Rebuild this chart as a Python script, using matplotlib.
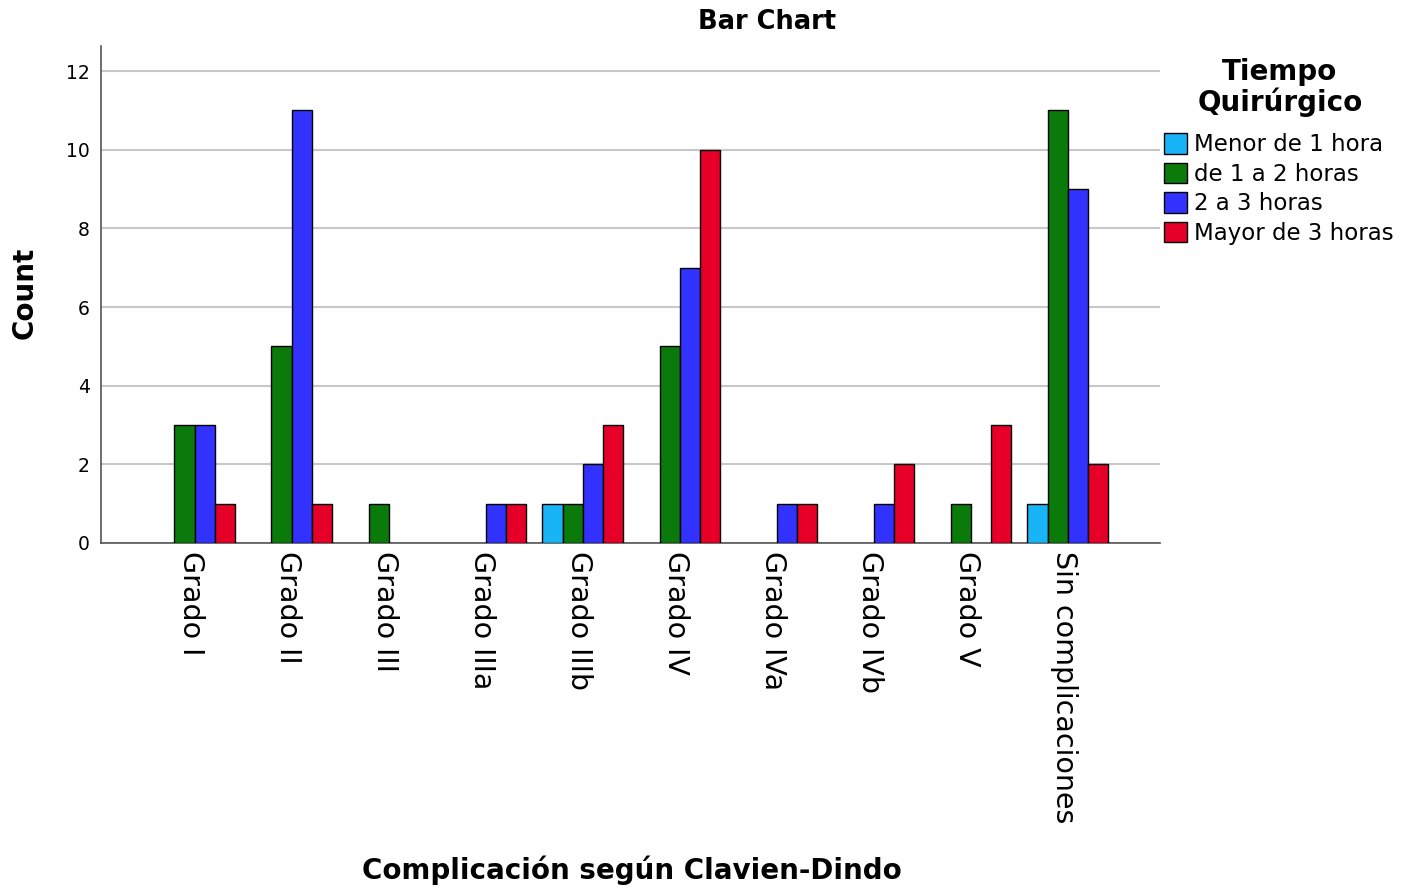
import matplotlib
matplotlib.use("Agg")
import matplotlib.pyplot as plt
import matplotlib.transforms as mtransforms
import numpy as np

categories = ["Grado I", "Grado II", "Grado III", "Grado IIIa", "Grado IIIb",
              "Grado IV", "Grado IVa", "Grado IVb", "Grado V", "Sin complicaciones"]
series_names = ["Menor de 1 hora", "de 1 a 2 horas", "2 a 3 horas", "Mayor de 3 horas"]
menor_1 = [0, 0, 0, 0, 1, 0, 0, 0, 0, 1]
de_1_a_2 = [3, 5, 1, 0, 1, 5, 0, 0, 1, 11]
de_2_a_3 = [3, 11, 0, 1, 2, 7, 1, 1, 0, 9]
mayor_3 = [1, 1, 0, 1, 3, 10, 1, 2, 3, 2]
series = [menor_1, de_1_a_2, de_2_a_3, mayor_3]
colors = ["#19b4f5", "#0a7a0a", "#3232ff", "#e60028"]
yticks = [0, 2, 4, 6, 8, 10, 12]

fig = plt.figure(figsize=(14.13, 8.93), dpi=100)
ax = fig.add_axes([0.0713, 0.392, 0.7497, 0.5565])

x = np.arange(len(categories))
w = 0.209
offsets = [-1.5, -0.5, 0.5, 1.5]
handles = []
for vals, col, off, name in zip(series, colors, offsets, series_names):
    vals = np.array(vals, dtype=float)
    mask = vals > 0
    ax.bar(x[mask] + off * w, vals[mask], width=w, color=col,
           edgecolor="black", linewidth=1.0, zorder=3)
    handles.append(plt.Rectangle((0, 0), 1, 1, facecolor=col, edgecolor="black", linewidth=1.0))

ax.set_xlim(-0.969, 9.95)
ax.set_ylim(0, 12.64)
ax.set_yticks(yticks)
ax.set_yticklabels([str(v) for v in yticks], fontsize=13.5)
ax.set_xticks(x)
ax.set_xticklabels(categories, rotation=-90, fontsize=20.5, va="top", ha="center")
ax.tick_params(axis="both", length=0, pad=8)
ax.tick_params(axis="x", pad=6)
shift = mtransforms.ScaledTranslation(-4 / 100, 0, fig.dpi_scale_trans)
for lbl in ax.get_xticklabels():
    lbl.set_transform(lbl.get_transform() + shift)
ax.grid(axis="y", color="#c8c8c8", linewidth=1.5, zorder=0)
for s in ["top", "right"]:
    ax.spines[s].set_visible(False)
ax.spines["left"].set_color("#555555")
ax.spines["bottom"].set_color("#555555")
ax.spines["left"].set_linewidth(1.2)
ax.spines["bottom"].set_linewidth(1.2)

fig.text(767 / 1413, 1 - 22 / 893, "Bar Chart", ha="center", va="center",
         fontsize=18.5, fontweight="bold")
fig.text(632 / 1413, 1 - 870 / 893, "Complicación según Clavien-Dindo", ha="center",
         va="center", fontsize=20, fontweight="bold")
fig.text(25 / 1413, 1 - 293 / 893, "Count", ha="center", va="center", rotation=90,
         fontsize=20, fontweight="bold")

fig.text(1280 / 1413, 1 - 72 / 893, "Tiempo", ha="center", va="center",
         fontsize=20, fontweight="bold")
fig.text(1280 / 1413, 1 - 102 / 893, "Quirúrgico", ha="center", va="center",
         fontsize=20, fontweight="bold")

leg = fig.legend(handles, series_names, loc="upper left",
                 bbox_to_anchor=(1164 / 1413, 1 - 133 / 893),
                 frameon=False, fontsize=16.5,
                 handlelength=1.0, handleheight=1.0, handletextpad=0.3,
                 labelspacing=0.28, borderaxespad=0, borderpad=0)

fig.savefig("out.png", dpi=100)
